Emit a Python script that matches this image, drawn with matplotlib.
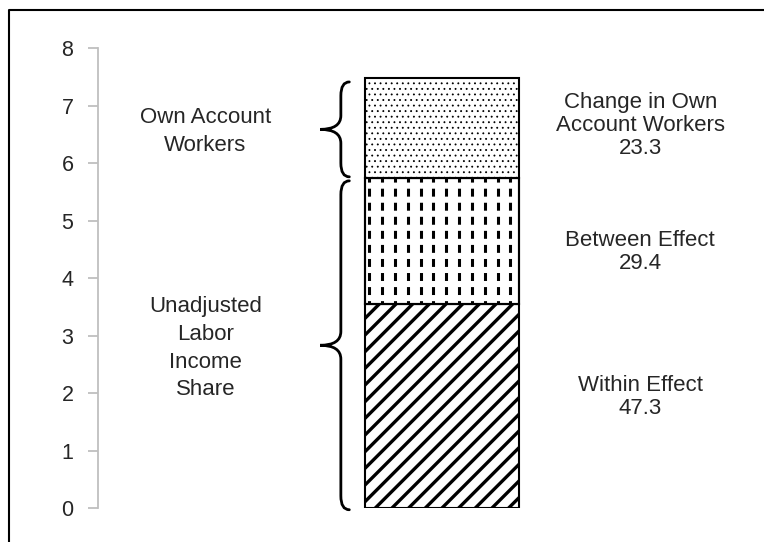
import numpy as np
import matplotlib.pyplot as plt
from matplotlib.path import Path
from matplotlib.patches import PathPatch
from matplotlib.lines import Line2D

plt.rcParams['font.family'] = ['Liberation Sans', 'DejaVu Sans']

# stacked components of the labor share bar
components = ["Within Effect", "Between Effect", "Change in Own\nAccount Workers"]
heights = [3.54, 2.20, 1.74]
shares = [47.3, 29.4, 23.3]
hatches = ["//", None, "..."]
hatch_lw = [2.4, 1.0, 0.6]
brace_labels = ["Unadjusted\nLabor\nIncome\nShare", "Own Account\nWorkers"]
yticks = [0, 1, 2, 3, 4, 5, 6, 7, 8]

TXT = "#262626"


def brace(ax, y_bot, y_top, x_end=-0.60, x_mid=-0.655, x_tip=-0.79, r=0.24):
    yc = (y_bot + y_top) / 2
    verts = [
        (x_end, y_top), (x_mid, y_top), (x_mid, y_top - r),
        (x_mid, yc + r),
        (x_mid, yc), (x_tip, yc),
        (x_mid, yc), (x_mid, yc - r),
        (x_mid, y_bot + r),
        (x_mid, y_bot), (x_end, y_bot),
    ]
    codes = [Path.MOVETO, Path.CURVE3, Path.CURVE3, Path.LINETO,
             Path.CURVE3, Path.CURVE3, Path.CURVE3, Path.CURVE3,
             Path.LINETO, Path.CURVE3, Path.CURVE3]
    ax.add_patch(PathPatch(Path(verts, codes), fill=False, lw=2.0,
                           color="black", capstyle="round", clip_on=False))


fig = plt.figure(figsize=(7.64, 5.42), dpi=100)
ax = fig.add_axes([0.128, 0.0627, 0.84, 0.8487])

bottoms = np.concatenate([[0], np.cumsum(heights)[:-1]])
bars = []
for h, b, hat, hlw in zip(heights, bottoms, hatches, hatch_lw):
    plt.rcParams['hatch.linewidth'] = hlw
    bar = ax.bar(0, h, bottom=b, width=1.0, color="white", edgecolor="black",
                 hatch=hat, linewidth=1.5)[0]
    bars.append(bar)

# dashed vertical pattern for the middle segment
mid = bars[1]
xs = -0.5 + 0.03 + np.arange(12) / 12
vl = ax.vlines(xs, bottoms[1], bottoms[1] + heights[1], colors="black",
               linewidth=2.2, linestyles=(1.5, (2.6, 2.0)))
vl.set_clip_path(mid)
# redraw the outline of the middle segment on top
ax.bar(0, heights[1], bottom=bottoms[1], width=1.0, fill=False,
       edgecolor="black", linewidth=1.5)

# braces
total_lower = bottoms[2]
total = bottoms[2] + heights[2]
brace(ax, -0.03, total_lower - 0.05)
brace(ax, total_lower + 0.02, total - 0.07)

ax.text(-1.535, total_lower / 2 - 0.09, brace_labels[0], ha="center", va="center",
        fontsize=16, color=TXT, linespacing=1.42)
ax.text(-1.535, (total_lower + total) / 2 - 0.06, brace_labels[1], ha="center",
        va="center", fontsize=16, color=TXT, linespacing=1.42)

label_y = [1.93, 4.45, 6.65]
for name, s, y in zip(components, shares, label_y):
    ax.text(1.29, y, f"{name}\n{s}", ha="center", va="center", fontsize=16,
            color=TXT, linespacing=1.12)

ax.set_xlim(-2.234, 1.935)
ax.set_ylim(0, 8)
ax.set_yticks(yticks)
ax.set_xticks([])
for side in ["top", "right", "bottom"]:
    ax.spines[side].set_visible(False)
ax.spines["left"].set_color("#bfbfbf")
ax.spines["left"].set_linewidth(1.3)
ax.tick_params(axis="y", length=7, width=1.3, color="#bfbfbf", pad=10.5,
               labelsize=15.5, labelcolor=TXT)

# frame around the figure (only top and left visible)
fx = 9 / 764
fy = 1 - 10 / 542
fig.add_artist(Line2D([fx, fx, 1.0], [0.0, fy, fy], transform=fig.transFigure,
                      color="black", lw=1.5))

fig.savefig("out.png", dpi=100)
